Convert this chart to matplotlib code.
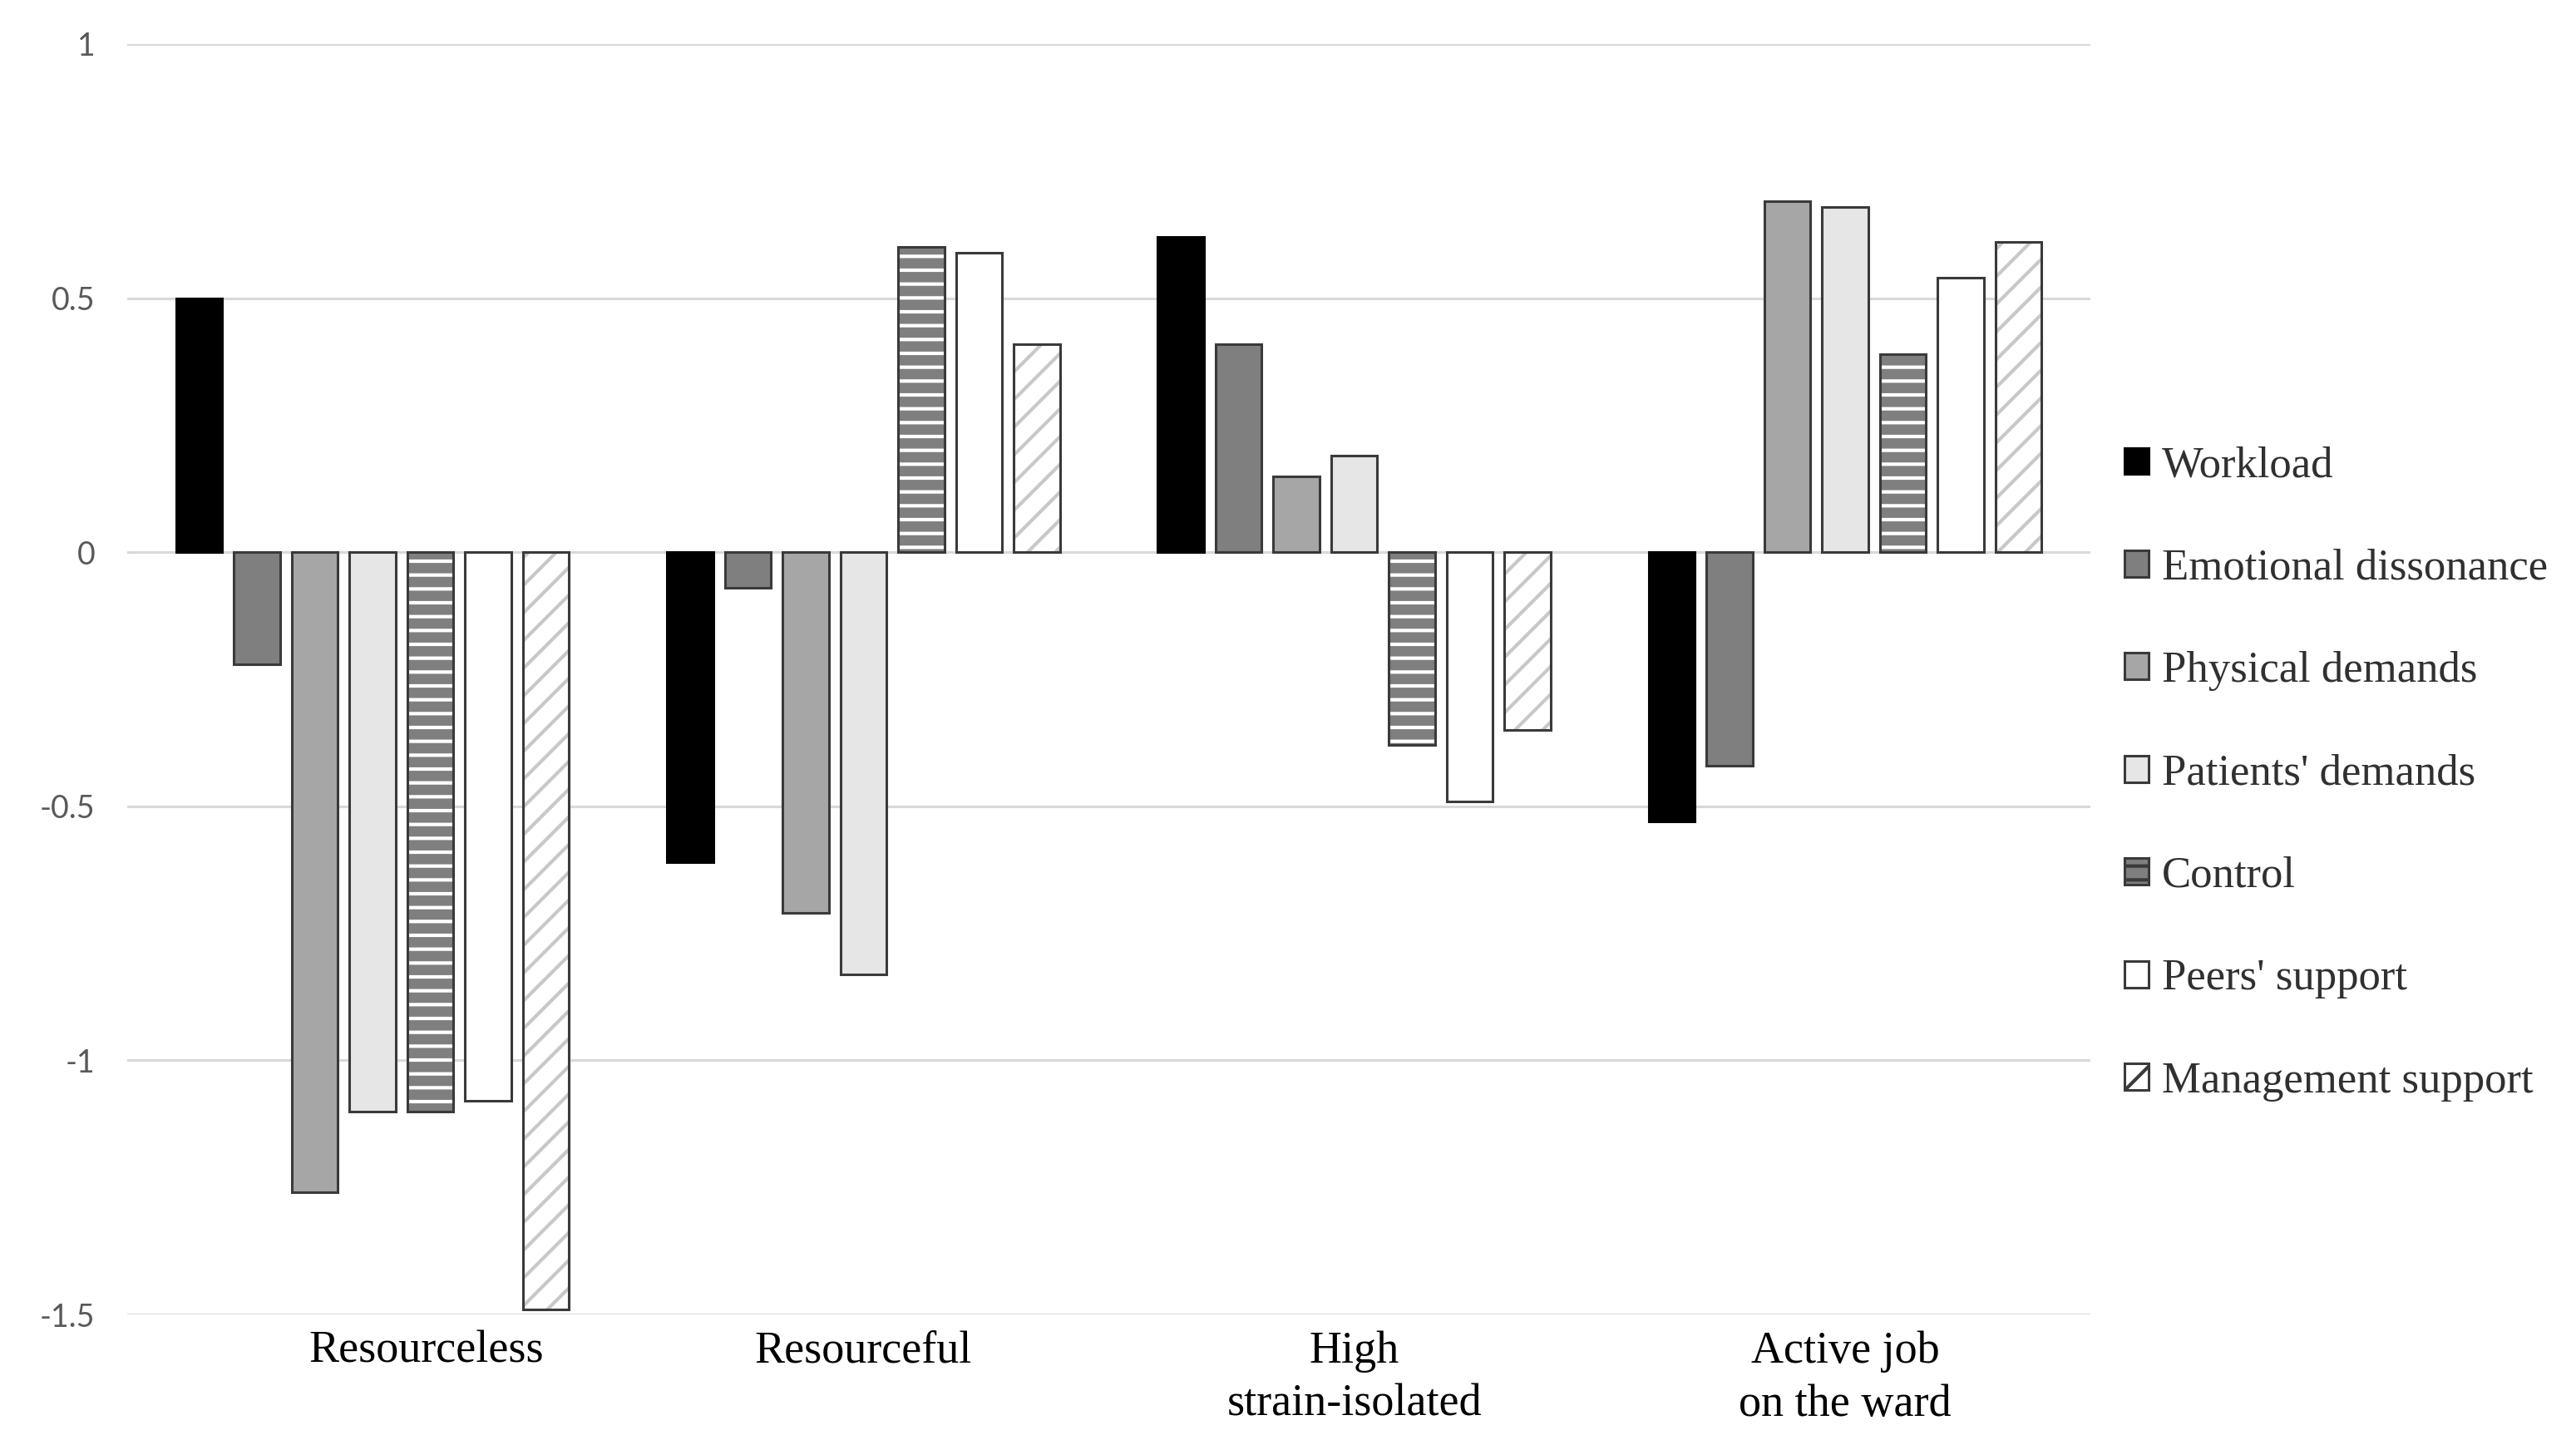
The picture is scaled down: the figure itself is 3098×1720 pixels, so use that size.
import matplotlib
matplotlib.use('Agg')
import matplotlib.pyplot as plt
from matplotlib.patches import Patch
import numpy as np

# data
categories = ['Resourceless', 'Resourceful', 'High\nstrain-isolated', 'Active job\non the ward']
series = ['Workload', 'Emotional dissonance', 'Physical demands', "Patients' demands",
          'Control', "Peers' support", 'Management support']
workload = [0.50, -0.61, 0.62, -0.53]
emotional = [-0.22, -0.07, 0.41, -0.42]
physical = [-1.26, -0.71, 0.15, 0.69]
patients = [-1.10, -0.83, 0.19, 0.68]
control = [-1.10, 0.60, -0.38, 0.39]
peers = [-1.08, 0.59, -0.49, 0.54]
management = [-1.49, 0.41, -0.35, 0.61]
values = [workload, emotional, physical, patients, control, peers, management]
yticks = [-1.5, -1, -0.5, 0, 0.5, 1]
ytick_labels = ['-1.5', '-1', '-0.5', '0', '0.5', '1']

# styles: facecolor, hatch, hatch colour
faces = ['#000000', '#7f7f7f', '#a6a6a6', '#e6e6e6', '#7f7f7f', '#ffffff', '#ffffff']
hatches = [None, None, None, None, '--', None, '//']
hatch_cols = [None, None, None, None, '#ffffff', None, '#c8c8c8']
edge = '#3a3a3a'

plt.rcParams['hatch.linewidth'] = 1.5

fig = plt.figure(figsize=(15.49, 8.6), dpi=200)
ax = fig.add_axes([0.0494, 0.0808, 0.8115 - 0.0494, 0.9692 - 0.0808])

x = np.arange(len(categories))
slot = 0.1177
width = 0.094
for i, vals in enumerate(values):
    pos = x + (i - 3) * slot
    if hatches[i]:
        # hatch layer first, outline on top
        ax.bar(pos, vals, width, color=faces[i], edgecolor=hatch_cols[i],
               hatch=hatches[i], linewidth=0, zorder=2)
        ax.bar(pos, vals, width, fill=False, edgecolor=edge, linewidth=1.1, zorder=3)
    else:
        ec = '#000000' if i == 0 else edge
        ax.bar(pos, vals, width, color=faces[i], edgecolor=ec, linewidth=1.1, zorder=3)

ax.set_xlim(-0.5, 3.5)
ax.set_ylim(-1.5, 1.0)
ax.set_yticks(yticks)
ax.set_yticklabels(ytick_labels, fontfamily='Lato', fontsize=13.5, color='#595959')
ax.yaxis.grid(True, color='#d9d9d9', linewidth=1.1, zorder=0)
ax.set_axisbelow(True)
for s in ax.spines.values():
    s.set_visible(False)
ax.tick_params(axis='y', length=0, pad=14)

# first label sits a little right of its group in the reference
xt = x.astype(float)
xt[0] += 0.11
ax.set_xticks(xt)
ax.set_xticklabels(categories, fontfamily='Liberation Serif', fontsize=19.5,
                   color='#000000', linespacing=1.35, va='top')
ax.tick_params(axis='x', length=0, pad=7)

handles = []
for i in range(len(series)):
    if hatches[i]:
        handles.append(Patch(facecolor=faces[i], edgecolor=edge, hatch=hatches[i],
                             linewidth=1.1))
    else:
        handles.append(Patch(facecolor=faces[i],
                             edgecolor='#000000' if i == 0 else edge, linewidth=1.1))
leg = fig.legend(handles, series, loc='center left', bbox_to_anchor=(0.818, 0.459),
                 frameon=False, prop={'family': 'Liberation Serif', 'size': 19},
                 handlelength=0.55, handleheight=0.55, handletextpad=0.3,
                 labelspacing=1.43, borderaxespad=0)
for t in leg.get_texts():
    t.set_color('#303030')

fig.savefig('out.png', dpi=200, facecolor='white')
